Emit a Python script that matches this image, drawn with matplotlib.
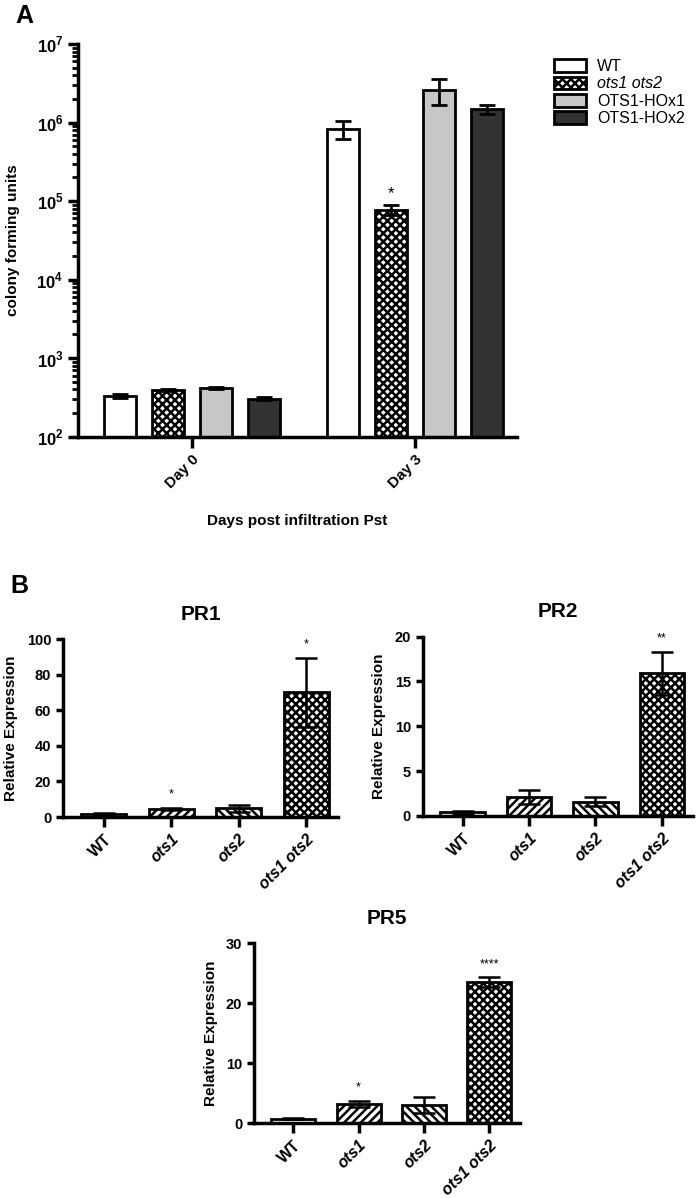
import matplotlib
matplotlib.use('Agg')
import matplotlib.pyplot as plt
import numpy as np
from matplotlib.patches import Patch
from matplotlib.ticker import LogLocator, NullFormatter, FixedLocator

plt.rcParams['font.family'] = ['Liberation Sans', 'DejaVu Sans']
plt.rcParams['font.weight'] = 'bold'
plt.rcParams['axes.labelweight'] = 'bold'
plt.rcParams['mathtext.fontset'] = 'custom'
plt.rcParams['mathtext.rm'] = 'Liberation Sans:bold'
plt.rcParams['mathtext.bf'] = 'Liberation Sans:bold'
plt.rcParams['hatch.linewidth'] = 1.8
plt.rcParams['axes.linewidth'] = 2.5

# ---- Panel A data: colony forming units ----
days = ['Day 0', 'Day 3']
genotypes_a = ['WT', 'ots1 ots2', 'OTS1-HOx1', 'OTS1-HOx2']
cfu_wt = [330, 8.3e5]
cfu_ots12 = [395, 7.7e4]
cfu_hox1 = [420, 2.6e6]
cfu_hox2 = [305, 1.48e6]
err_wt = [15, 2.2e5]
err_ots12 = [15, 1.1e4]
err_hox1 = [12, 0.95e6]
err_hox2 = [15, 0.2e6]

# ---- Panel B data: relative expression ----
genotypes_b = ['WT', 'ots1', 'ots2', 'ots1 ots2']
pr1_mean = [1.5, 4.5, 4.8, 70]
pr1_err = [0.6, 0.6, 1.8, 19.5]
pr1_sig = ['', '*', '', '*']
pr2_mean = [0.4, 2.1, 1.6, 15.9]
pr2_err = [0.15, 0.8, 0.5, 2.4]
pr2_sig = ['', '', '', '**']
pr5_mean = [0.7, 3.2, 3.0, 23.5]
pr5_err = [0.1, 0.5, 1.3, 0.8]
pr5_sig = ['', '*', '', '****']

fig = plt.figure(figsize=(7, 11.98), dpi=100)

# ---------------- Panel A ----------------
axA = fig.add_axes([0.1114, 0.6355, 0.627, 0.3278])
x = np.arange(len(days))
w = 0.1435
step = 0.215
styles = [
    dict(color='white', hatch=None),
    dict(color='white', hatch='xxxx'),
    dict(color='#c6c7c9', hatch=None),
    dict(color='#333333', hatch=None),
]
series = [cfu_wt, cfu_ots12, cfu_hox1, cfu_hox2]
errs = [err_wt, err_ots12, err_hox1, err_hox2]
for i, (vals, ee, st) in enumerate(zip(series, errs, styles)):
    xp = x + (i - 1.5) * step
    axA.bar(xp, vals, w, bottom=0, color=st['color'], edgecolor='black',
            linewidth=2, hatch=st['hatch'], zorder=2)
    axA.errorbar(xp, vals, yerr=ee, fmt='none', ecolor='black', elinewidth=2,
                 capsize=6, capthick=2, zorder=3)

axA.text(1 - 0.5 * step, 1.25e5, '*', ha='center', va='center', fontsize=12,
         fontweight='normal')

axA.set_yscale('log')
axA.set_ylim(100, 1e7)
axA.set_xlim(-0.511, 1.457)
axA.yaxis.set_major_locator(FixedLocator([1e2, 1e3, 1e4, 1e5, 1e6, 1e7]))
axA.set_yticklabels([r'$10^{%d}$' % k for k in range(2, 8)], fontsize=12)
axA.yaxis.set_minor_locator(LogLocator(base=10, subs=np.arange(2, 10)))
axA.yaxis.set_minor_formatter(NullFormatter())
axA.tick_params(axis='y', which='major', length=7, width=2.5)
axA.tick_params(axis='y', which='minor', length=4, width=2)
axA.set_xticks(x)
axA.set_xticklabels(days, rotation=45, ha='right', rotation_mode='anchor',
                    fontsize=11, fontweight='bold')
axA.tick_params(axis='x', length=8, width=2.5)
axA.spines['top'].set_visible(False)
axA.spines['right'].set_visible(False)
axA.set_ylabel('colony forming units', fontsize=11, labelpad=12)
axA.set_xlabel('Days post infiltration Pst', fontsize=11, labelpad=16)

handles = [Patch(facecolor=st['color'], edgecolor='black', linewidth=2,
                 hatch=st['hatch']) for st in styles]
leg = fig.legend(handles, genotypes_a, loc='upper left',
                 bbox_to_anchor=(0.775, 0.96), frameon=False,
                 prop={'size': 11.5, 'weight': 'normal'},
                 handlelength=2.0, handleheight=0.85, labelspacing=0.15,
                 handletextpad=0.7, borderpad=0.2)
leg.get_texts()[1].set_style('italic')

fig.text(0.022, 0.997, 'A', fontsize=18, fontweight='bold', va='top')
fig.text(0.015, 0.5205, 'B', fontsize=18, fontweight='bold', va='top')


# ---------------- Panel B ----------------
def expr_panel(rect, title, means, errs_, sig, ymax, ystep):
    ax = fig.add_axes(rect)
    xb = np.arange(len(genotypes_b))
    hatches = [None, '////', '\\\\\\\\', 'xxxx']
    for j in range(len(xb)):
        ax.bar(xb[j], means[j], 0.67, color='white', edgecolor='black',
               linewidth=2, hatch=hatches[j], zorder=2)
    ax.errorbar(xb, means, yerr=errs_, fmt='none', ecolor='black',
                elinewidth=1.8, capsize=8, capthick=1.8, zorder=3)
    for j in range(len(xb)):
        if sig[j]:
            ax.text(xb[j], means[j] + errs_[j] + ymax * 0.04, sig[j],
                    ha='center', va='bottom', fontsize=9, fontweight='normal')
    ax.set_ylim(0, ymax)
    ax.set_xlim(-0.6, 3.47)
    ax.set_yticks(np.arange(0, ymax + 0.1, ystep))
    ax.tick_params(axis='y', length=5, width=2.5, labelsize=10.5)
    ax.set_xticks(xb)
    ax.set_xticklabels(genotypes_b, rotation=45, ha='right',
                       rotation_mode='anchor', fontsize=11.5)
    for j, t in enumerate(ax.get_xticklabels()):
        if j > 0:
            t.set_style('italic')
    ax.tick_params(axis='x', length=7, width=2.5)
    ax.spines['top'].set_visible(False)
    ax.spines['right'].set_visible(False)
    ax.set_ylabel('Relative Expression', fontsize=11, labelpad=6)
    ax.set_title(title, fontsize=15, fontweight='bold', pad=14)
    return ax


expr_panel([0.09, 0.318, 0.393, 0.1486], 'PR1', pr1_mean, pr1_err, pr1_sig, 100, 20)
expr_panel([0.604, 0.3189, 0.386, 0.1497], 'PR2', pr2_mean, pr2_err, pr2_sig, 20, 5)
expr_panel([0.363, 0.0626, 0.38, 0.150], 'PR5', pr5_mean, pr5_err, pr5_sig, 30, 10)

fig.savefig('out.png', dpi=100, facecolor='white')
